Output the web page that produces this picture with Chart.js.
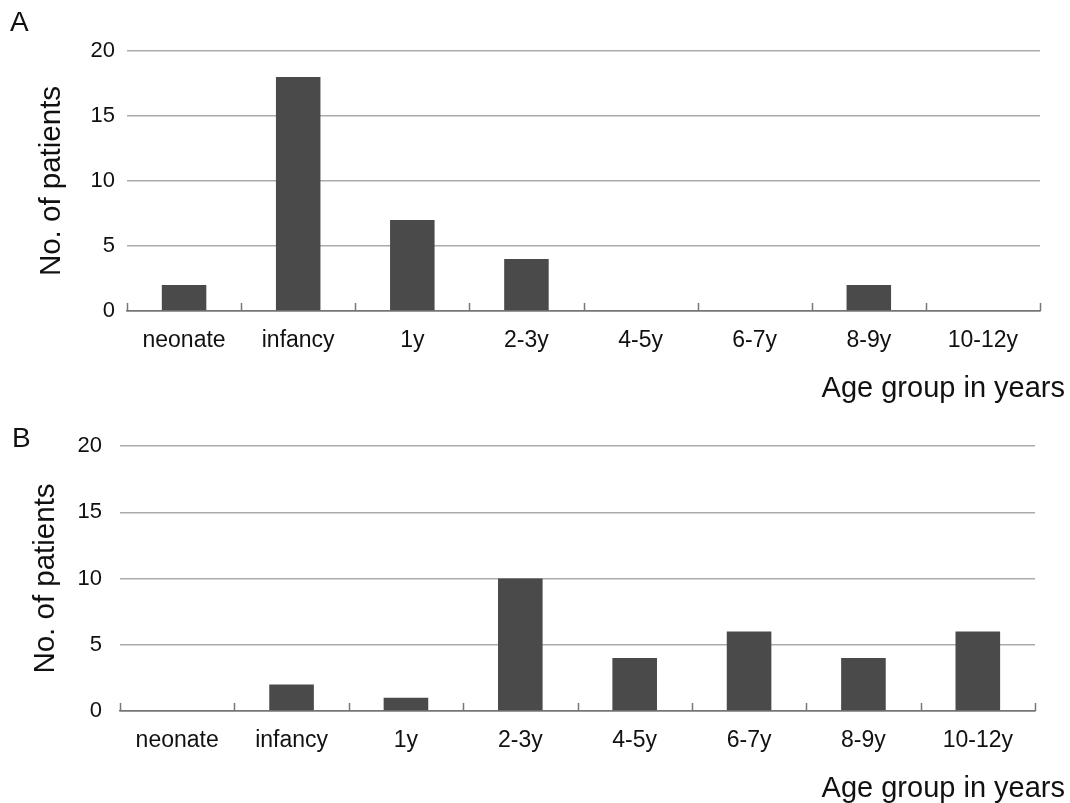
<!DOCTYPE html>
<html>
<head>
<meta charset="utf-8">
<script src="https://cdn.jsdelivr.net/npm/chart.js@4.4.1/dist/chart.umd.min.js"></script>
<style>
  body { margin: 0; background: #fff; font-family: "Liberation Sans", Arial, sans-serif; }
  .wrap { position: relative; width: 1070px; height: 803px; overflow: hidden; }
  .panel { position: absolute; left: 0; width: 1070px; }
  .letter { position: absolute; font-size: 28px; line-height: 1; color: #111; }
  .xtitle { position: absolute; right: 5px; font-size: 29px; line-height: 1; color: #111; }
</style>
</head>
<body>
<div class="wrap">
  <div class="panel" style="top:0;height:400px"><canvas id="chartA"></canvas></div>
  <div class="panel" style="top:380px;height:420px"><canvas id="chartB"></canvas></div>
  <div class="letter" style="top:8px;left:10px">A</div>
  <div class="letter" style="top:424px;left:12px">B</div>
  <div class="xtitle" style="top:373px">Age group in years</div>
  <div class="xtitle" style="top:773px">Age group in years</div>
</div>
<script>
const ageGroups = ["neonate", "infancy", "1y", "2-3y", "4-5y", "6-7y", "8-9y", "10-12y"];
const patientsA = [2, 18, 7, 4, 0, 0, 2, 0];
const patientsB = [0, 2, 1, 10, 4, 6, 4, 6];
const yTicks = [0, 5, 10, 15, 20];

const FONT = "'Liberation Sans', Arial, sans-serif";

// small upward tick marks at category boundaries
const innerTicks = {
  id: "innerTicks",
  afterDraw(chart) {
    const x = chart.scales.x;
    const ctx = chart.ctx;
    const y0 = chart.chartArea.bottom;
    ctx.save();
    ctx.strokeStyle = "#777";
    ctx.lineWidth = 1.5;
    for (let i = 0; i <= ageGroups.length; i++) {
      const px = Math.round(x.getPixelForValue(i - 0.5)) + 0.5;
      ctx.beginPath();
      ctx.moveTo(px, y0);
      ctx.lineTo(px, y0 - 8);
      ctx.stroke();
    }
    ctx.restore();
  }
};

function makeChart(canvasId, values, opts) {
  return new Chart(document.getElementById(canvasId), {
    type: "bar",
    data: {
      labels: ageGroups,
      datasets: [{
        data: values,
        backgroundColor: "#4a4a4a",
        borderWidth: 0,
        barPercentage: 0.39,
        categoryPercentage: 1
      }]
    },
    plugins: [innerTicks],
    options: {
      responsive: true,
      maintainAspectRatio: false,
      animation: false,
      layout: { padding: { top: opts.top, right: opts.right, left: 0, bottom: 0 } },
      plugins: { legend: { display: false }, tooltip: { enabled: false } },
      scales: {
        x: {
          grid: { display: false, drawTicks: false },
          border: { display: true, color: "#777", width: 1.5 },
          ticks: { color: "#111", font: { family: FONT, size: 23 }, padding: 16, maxRotation: 0 },
          afterFit(scale) { scale.height = opts.xHeight; }
        },
        y: {
          min: 0,
          max: 20,
          afterBuildTicks(scale) { scale.ticks = yTicks.map((v) => ({ value: v })); },
          grid: {
            drawTicks: false,
            color: (c) => (c.tick && c.tick.value === 0 ? "#777" : "#ababab"),
            lineWidth: 1.5
          },
          border: { display: false },
          ticks: { color: "#111", font: { family: FONT, size: 22 }, padding: opts.tickPad },
          title: {
            display: true,
            text: "No. of patients",
            color: "#111",
            font: { family: FONT, size: 29.5 },
            padding: { top: opts.titlePad, bottom: 0 }
          },
          afterFit(scale) { scale.width = opts.yWidth; }
        }
      }
    }
  });
}

makeChart("chartA", patientsA, { top: 51, right: 30, xHeight: 89, yWidth: 127, tickPad: 12, titlePad: 34 });
makeChart("chartB", patientsB, { top: 66, right: 35, xHeight: 89, yWidth: 120, tickPad: 18, titlePad: 28 });
</script>
</body>
</html>
